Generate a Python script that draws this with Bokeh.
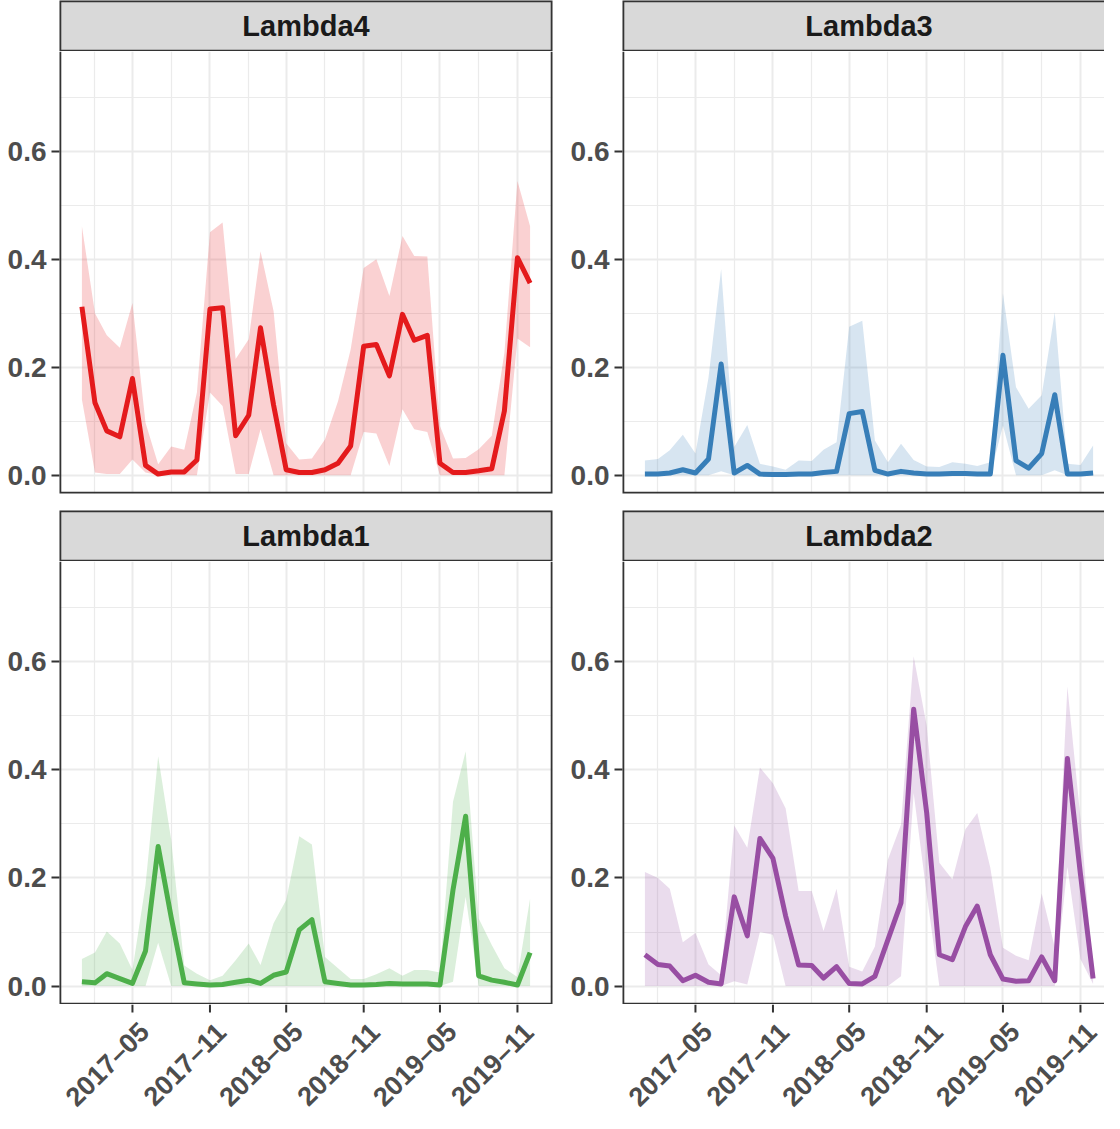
import math
import pandas as pd
from bokeh.plotting import figure
from bokeh.layouts import column, row
from bokeh.models import ColumnDataSource, FixedTicker, Range1d
from bokeh.core.properties import value
from bokeh.embed import file_html
from bokeh.resources import INLINE

# ---------------- data ----------------
MONTHS = pd.date_range("2017-01-01", periods=36, freq="MS")

TICK_DATES = ["2017-05-01", "2017-11-01", "2018-05-01", "2018-11-01", "2019-05-01", "2019-11-01"]
TICK_LABELS = ["2017–05", "2017–11", "2018–05", "2018–11", "2019–05", "2019–11"]
Y_TICKS = [0.0, 0.2, 0.4, 0.6]
Y_LABELS = ["0.0", "0.2", "0.4", "0.6"]
Y_MINOR = [0.1, 0.3, 0.5, 0.7]

PANEL_NAMES = ["Lambda4", "Lambda3", "Lambda1", "Lambda2"]
PANEL_COLORS = ["#E41A1C", "#377EB8", "#4DAF4A", "#984EA3"]

lambda4_mean = [0.312, 0.134, 0.082, 0.071, 0.179, 0.018, 0.002, 0.006, 0.006, 0.028, 0.308, 0.310,
                0.073, 0.111, 0.273, 0.130, 0.010, 0.005, 0.005, 0.010, 0.022, 0.054, 0.239, 0.242,
                0.184, 0.298, 0.250, 0.259, 0.022, 0.005, 0.005, 0.008, 0.012, 0.119, 0.403, 0.356]
lambda4_upper = [0.461, 0.300, 0.259, 0.236, 0.319, 0.097, 0.020, 0.053, 0.047, 0.153, 0.450, 0.468,
                 0.215, 0.252, 0.415, 0.304, 0.059, 0.029, 0.031, 0.066, 0.137, 0.233, 0.384, 0.400,
                 0.332, 0.443, 0.406, 0.405, 0.091, 0.031, 0.032, 0.048, 0.073, 0.227, 0.545, 0.461]
lambda4_lower = [0.140, 0.005, 0.002, 0.002, 0.029, 0.005, 0.000, 0.000, 0.000, 0.000, 0.153, 0.128,
                 0.002, 0.002, 0.085, 0.000, 0.000, 0.000, 0.000, 0.000, 0.000, 0.000, 0.080, 0.077,
                 0.017, 0.122, 0.085, 0.080, 0.000, 0.000, 0.000, 0.000, 0.000, 0.000, 0.253, 0.237]

lambda3_mean = [0.002, 0.002, 0.004, 0.010, 0.004, 0.030, 0.206, 0.004, 0.018, 0.002, 0.001, 0.001,
                0.002, 0.002, 0.005, 0.007, 0.114, 0.118, 0.009, 0.002, 0.007, 0.004, 0.002, 0.002,
                0.003, 0.003, 0.002, 0.002, 0.222, 0.027, 0.013, 0.040, 0.149, 0.002, 0.002, 0.004]
lambda3_upper = [0.027, 0.030, 0.046, 0.075, 0.040, 0.181, 0.382, 0.052, 0.093, 0.021, 0.016, 0.010,
                 0.027, 0.026, 0.047, 0.061, 0.275, 0.286, 0.064, 0.024, 0.058, 0.028, 0.016, 0.015,
                 0.024, 0.021, 0.017, 0.024, 0.337, 0.163, 0.123, 0.148, 0.302, 0.021, 0.019, 0.055]
lambda3_lower = [0.000, 0.000, 0.000, 0.000, 0.000, 0.000, 0.007, 0.000, 0.000, 0.000, 0.000, 0.000,
                 0.000, 0.000, 0.000, 0.000, 0.000, 0.000, 0.000, 0.000, 0.000, 0.000, 0.000, 0.000,
                 0.000, 0.000, 0.000, 0.000, 0.092, 0.000, 0.000, 0.000, 0.009, 0.000, 0.000, 0.000]

lambda1_mean = [0.008, 0.006, 0.023, 0.014, 0.005, 0.065, 0.258, 0.127, 0.006, 0.004, 0.002, 0.003,
                0.007, 0.011, 0.005, 0.020, 0.026, 0.104, 0.123, 0.008, 0.005, 0.002, 0.002, 0.003,
                0.005, 0.004, 0.004, 0.004, 0.002, 0.178, 0.314, 0.019, 0.011, 0.007, 0.002, 0.062]
lambda1_upper = [0.050, 0.062, 0.101, 0.079, 0.030, 0.187, 0.425, 0.270, 0.038, 0.023, 0.011, 0.019,
                 0.048, 0.079, 0.039, 0.116, 0.159, 0.277, 0.262, 0.054, 0.033, 0.013, 0.013, 0.022,
                 0.033, 0.019, 0.030, 0.030, 0.025, 0.341, 0.434, 0.125, 0.076, 0.033, 0.017, 0.162]
lambda1_lower = [0.000, 0.000, 0.000, 0.000, 0.000, 0.000, 0.080, 0.000, 0.000, 0.000, 0.000, 0.000,
                 0.000, 0.000, 0.000, 0.000, 0.000, 0.000, 0.000, 0.000, 0.000, 0.000, 0.000, 0.000,
                 0.000, 0.000, 0.000, 0.000, 0.000, 0.008, 0.165, 0.000, 0.000, 0.000, 0.000, 0.000]

lambda2_mean = [0.058, 0.040, 0.037, 0.010, 0.020, 0.007, 0.004, 0.165, 0.093, 0.273, 0.236, 0.130,
                0.039, 0.038, 0.015, 0.036, 0.005, 0.004, 0.018, 0.086, 0.154, 0.512, 0.320, 0.058,
                0.049, 0.110, 0.148, 0.058, 0.013, 0.009, 0.010, 0.054, 0.010, 0.421, 0.207, 0.014]
lambda2_upper = [0.211, 0.200, 0.180, 0.081, 0.098, 0.040, 0.020, 0.297, 0.256, 0.404, 0.375, 0.329,
                 0.176, 0.176, 0.102, 0.180, 0.036, 0.027, 0.073, 0.234, 0.299, 0.610, 0.481, 0.228,
                 0.197, 0.290, 0.320, 0.219, 0.071, 0.056, 0.048, 0.171, 0.072, 0.554, 0.310, 0.025]
lambda2_lower = [0.000, 0.000, 0.000, 0.000, 0.000, 0.000, 0.000, 0.009, 0.003, 0.100, 0.095, 0.000,
                 0.000, 0.000, 0.000, 0.000, 0.000, 0.000, 0.000, 0.000, 0.018, 0.357, 0.170, 0.000,
                 0.000, 0.000, 0.000, 0.000, 0.000, 0.000, 0.000, 0.000, 0.000, 0.220, 0.050, 0.004]

SERIES = {
    "Lambda4": (lambda4_mean, lambda4_lower, lambda4_upper),
    "Lambda3": (lambda3_mean, lambda3_lower, lambda3_upper),
    "Lambda1": (lambda1_mean, lambda1_lower, lambda1_upper),
    "Lambda2": (lambda2_mean, lambda2_lower, lambda2_upper),
}

# ---------------- helpers ----------------
def ms(d):
    return pd.Timestamp(d).value / 1e6

X_FIRST = ms(MONTHS[0])
X_LAST = ms(MONTHS[-1])
X_SPAN = X_LAST - X_FIRST
X_START = X_FIRST - 0.05 * X_SPAN
X_END = X_LAST + 0.05 * X_SPAN
Y_START, Y_END = -0.034, 0.785

MAJOR_MS = [ms(d) for d in TICK_DATES]
EXT = [ms("2016-11-01")] + MAJOR_MS + [ms("2020-05-01")]
MINOR_MS = [(a + b) / 2 for a, b in zip(EXT[:-1], EXT[1:])]

FONT = "Liberation Sans"
BORDER = "#333333"
GRID = "#EBEBEB"
TICK_TEXT = "#4D4D4D"

FULL_W = 493          # frame width of a full panel (px)
LEFT_PAD = 59         # room for the y tick labels (px)
MS_PER_PX = (X_END - X_START) / FULL_W
BAND_H = 109          # x tick marks + rotated tick labels (px)
TICK_LEN = 8


def make_panel(name, color, col, bottom):
    mean, lower, upper = SERIES[name]
    frame_w = FULL_W if col == 0 else 482
    x_end = X_START + MS_PER_PX * frame_w
    mb_right = 11 if col == 0 else 0
    xr = Range1d(X_START, x_end)

    common = dict(frame_width=frame_w, x_range=xr, min_border_left=LEFT_PAD,
                  min_border_right=mb_right, min_border_top=0, toolbar_location=None,
                  output_backend="svg", outline_line_color=None,
                  border_fill_color="white", background_fill_color="white")

    # ---- strip ----
    strip = figure(frame_height=51, y_range=Range1d(0, 1), min_border_bottom=0,
                   x_axis_location=None, y_axis_location=None, **common)
    strip.grid.visible = False
    strip.quad(left=[X_START], right=[X_END], bottom=[0], top=[1], fill_color="#D9D9D9",
               line_color=BORDER, line_width=3.6)
    strip.text(x=[(X_START + X_END) / 2], y=[0.5], text=[name], text_font=value(FONT),
               text_font_style="bold", text_font_size="29px", text_color="#1A1A1A",
               text_align="center", text_baseline="middle")

    # ---- main panel ----
    p = figure(frame_height=443 if bottom else 442, y_range=Range1d(Y_START, Y_END),
               x_axis_type="datetime", x_axis_location=None,
               min_border_bottom=0 if bottom else 17, **common)

    xticker = FixedTicker(ticks=MAJOR_MS, minor_ticks=MINOR_MS)
    yticker = FixedTicker(ticks=Y_TICKS, minor_ticks=Y_MINOR)

    p.xgrid.ticker = xticker
    p.ygrid.ticker = yticker
    for g in (p.xgrid, p.ygrid):
        g.grid_line_color = GRID
        g.grid_line_width = 2
        g.minor_grid_line_color = GRID
        g.minor_grid_line_width = 1.2

    ax = p.yaxis[0]
    ax.ticker = yticker
    ax.major_label_overrides = {t: l for t, l in zip(Y_TICKS, Y_LABELS)}
    ax.major_label_text_font_size = "28px"
    ax.major_label_standoff = 5
    ax.axis_line_color = None
    ax.major_tick_out = 8
    ax.major_tick_in = 0
    ax.minor_tick_out = 0
    ax.minor_tick_in = 0
    ax.major_tick_line_color = BORDER
    ax.major_tick_line_width = 2
    ax.major_label_text_font = FONT
    ax.major_label_text_font_style = "bold"
    ax.major_label_text_color = TICK_TEXT

    src = ColumnDataSource(dict(x=MONTHS, mean=mean, lower=lower, upper=upper))
    p.varea(x="x", y1="lower", y2="upper", source=src, fill_color=color, fill_alpha=0.2)
    p.line(x="x", y="mean", source=src, line_color=color, line_width=5, line_join="round")

    # panel border (left, bottom, right) drawn from the ranges
    p.line(x=[X_START, X_START, X_END, X_END], y=[Y_END, Y_START, Y_START, Y_END],
           line_color=BORDER, line_width=3.6)

    children = [strip, p]

    if bottom:
        # band under the panel: date tick marks and rotated tick labels on the same scale
        band = figure(frame_height=BAND_H, y_range=Range1d(0, BAND_H), min_border_bottom=0,
                      x_axis_location=None, y_axis_location=None, **common)
        band.grid.visible = False
        lab_src = ColumnDataSource(dict(x=MAJOR_MS, text=TICK_LABELS))
        band.segment(x0="x", y0=BAND_H, x1="x", y1=BAND_H - TICK_LEN, source=lab_src,
                     line_color=BORDER, line_width=2)
        band.text(x="x", y=BAND_H - 60, text="text", source=lab_src, x_offset=-25,
                  angle=math.pi / 4, text_align="center", text_baseline="middle",
                  text_font=value(FONT), text_font_style="bold", text_font_size="27px",
                  text_color=TICK_TEXT)
        children.append(band)

    return column(*children, spacing=0)


panels = []
for i, (name, color) in enumerate(zip(PANEL_NAMES, PANEL_COLORS)):
    panels.append(make_panel(name, color, i % 2, i >= 2))

layout = column(row(panels[0], panels[1], spacing=0),
                row(panels[2], panels[3], spacing=0), spacing=0)

open("out.html", "w").write(file_html(layout, INLINE))
